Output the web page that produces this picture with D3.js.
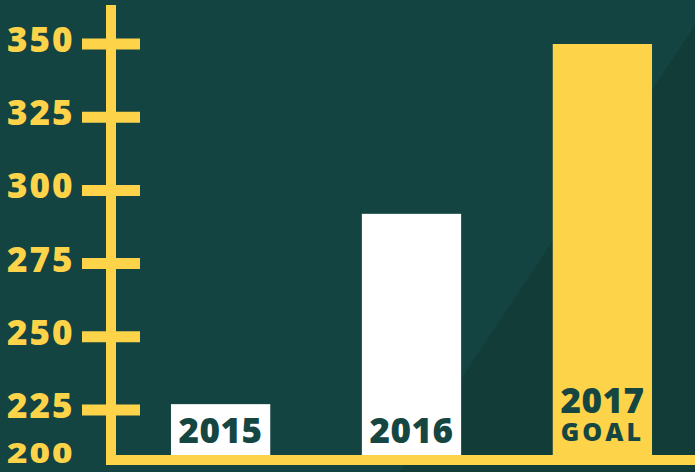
<!DOCTYPE html>
<html>
<head>
<meta charset="utf-8">
<script src="https://cdn.jsdelivr.net/npm/d3@7"></script>
<style>
    html, body { margin: 0; padding: 0; background: #134441; }
    svg { display: block; }
</style>
</head>
<body>
<div id="chart"></div>
<script>
// chart data
const years = ['2015', '2016', '2017'];
const values = [227, 292, 350];
const barLabels = [['2015'], ['2016'], ['2017', 'GOAL']];
const tickValues = [350, 325, 300, 275, 250, 225, 200];

const width = 695;
const height = 472;
const yellow = '#fdd34a';
const dark = '#154641';

const svg = d3.select('#chart').append('svg')
    .attr('width', width)
    .attr('height', height);

// background + darker diagonal wedge in the lower right
svg.append('rect')
    .attr('width', width)
    .attr('height', height)
    .attr('fill', '#134441');

svg.append('path')
    .attr('d', d3.line()([[400, height], [width, 25], [width, height]]) + 'Z')
    .attr('fill', '#113c38');

// the axis is stretched at the bottom: 200 sits on the baseline
const y = d3.scaleLinear()
    .domain([200, 225, 350])
    .range([460, 410, 44]);

const x = d3.scaleBand()
    .domain(years)
    .range([116, 707])
    .paddingInner(0.48)
    .paddingOuter(0.288);

// bars
svg.selectAll('.bar')
    .data(years)
    .join('rect')
    .attr('class', 'bar')
    .attr('x', d => x(d))
    .attr('y', (d, i) => y(values[i]))
    .attr('width', x.bandwidth())
    .attr('height', (d, i) => y(200) - y(values[i]))
    .attr('fill', (d, i) => i === 2 ? yellow : '#ffffff');

// bar labels
years.forEach((yr, i) => {
    const cx = x(yr) + x.bandwidth() / 2;
    const lines = barLabels[i];
    if (lines.length === 1) {
        svg.append('text')
            .attr('x', cx)
            .attr('y', 443)
            .attr('text-anchor', 'middle')
            .attr('fill', dark)
            .style('font', '800 35px "Open Sans"')
            .style('letter-spacing', '0.5px')
            .text(lines[0]);
    } else {
        svg.append('text')
            .attr('x', cx)
            .attr('y', 413)
            .attr('text-anchor', 'middle')
            .attr('fill', dark)
            .style('font', '800 35px "Open Sans"')
            .style('letter-spacing', '0.5px')
            .text(lines[0]);
        svg.append('text')
            .attr('x', cx)
            .attr('y', 441)
            .attr('text-anchor', 'middle')
            .attr('fill', dark)
            .style('font', '800 25px "Open Sans"')
            .style('letter-spacing', '3px')
            .text(lines[1]);
    }
});

// axis lines
svg.append('line')
    .attr('x1', 111).attr('x2', 111)
    .attr('y1', 5).attr('y2', 465)
    .attr('stroke', yellow)
    .attr('stroke-width', 10);

svg.append('line')
    .attr('x1', 106).attr('x2', width)
    .attr('y1', y(200)).attr('y2', y(200))
    .attr('stroke', yellow)
    .attr('stroke-width', 10);

// tick marks crossing the axis
svg.selectAll('.tick')
    .data(tickValues.filter(d => d > 200))
    .join('line')
    .attr('class', 'tick')
    .attr('x1', 82).attr('x2', 140)
    .attr('y1', d => y(d)).attr('y2', d => y(d))
    .attr('stroke', yellow)
    .attr('stroke-width', 11);

// tick labels (the bottom one is squeezed against the baseline)
svg.selectAll('.tick-label')
    .data(tickValues)
    .join('text')
    .attr('class', 'tick-label')
    .attr('transform', d => d === 200
        ? 'translate(7,463) scale(1,0.8)'
        : `translate(7,${y(d) + 8})`)
    .attr('fill', yellow)
    .style('font', '800 35px "Open Sans"')
    .style('letter-spacing', '2px')
    .text(d => d);
</script>
</body>
</html>
